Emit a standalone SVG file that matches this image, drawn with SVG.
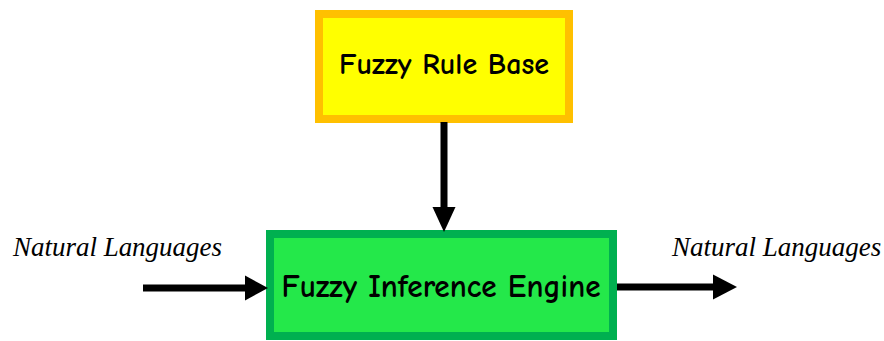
<svg xmlns="http://www.w3.org/2000/svg" width="884" height="341" viewBox="0 0 884 341">
  <style>
    .label { font-family: "Liberation Serif", "Times New Roman", serif; font-style: italic; font-size: 27px; fill: #000; }
    .hand { font-family: "Comic Neue", "Lato", "Open Sans", sans-serif; fill: #000; text-anchor: middle; }
    .wire { stroke: #000; stroke-width: 7; fill: none; }
    .head { fill: #000; }
  </style>
  <rect width="884" height="341" fill="#fff"/>

  <g id="rule-base">
    <rect x="319" y="14" width="250" height="105" fill="#ffff00" stroke="#ffc000" stroke-width="8"/>
    <text class="hand" x="444" y="74" font-size="30" font-weight="600" textLength="210" lengthAdjust="spacingAndGlyphs">Fuzzy Rule Base</text>
  </g>

  <g id="inference-engine">
    <rect x="270" y="234" width="343" height="102" fill="#24e84a" stroke="#00b050" stroke-width="8"/>
    <text class="hand" x="441" y="297" font-size="32" font-weight="bold" textLength="319" lengthAdjust="spacingAndGlyphs">Fuzzy Inference Engine</text>
  </g>

  <g id="input-label">
    <text class="label" x="13" y="256" textLength="209" lengthAdjust="spacingAndGlyphs">Natural Languages</text>
  </g>
  <g id="output-label">
    <text class="label" x="672" y="256" font-size="26">Natural Languages</text>
  </g>

  <g id="connectors">
    <!-- rule base down to engine -->
    <line class="wire" x1="444" y1="122" x2="444" y2="209"/>
    <polygon class="head" points="432.5,207 455.5,207 444,232"/>
    <!-- input into engine -->
    <line class="wire" x1="143" y1="288" x2="247" y2="288"/>
    <polygon class="head" points="245,275.5 245,300.5 268,288"/>
    <!-- engine output -->
    <line class="wire" x1="617" y1="287" x2="715" y2="287"/>
    <polygon class="head" points="713,274.5 713,299.5 737,287"/>
  </g>
</svg>
